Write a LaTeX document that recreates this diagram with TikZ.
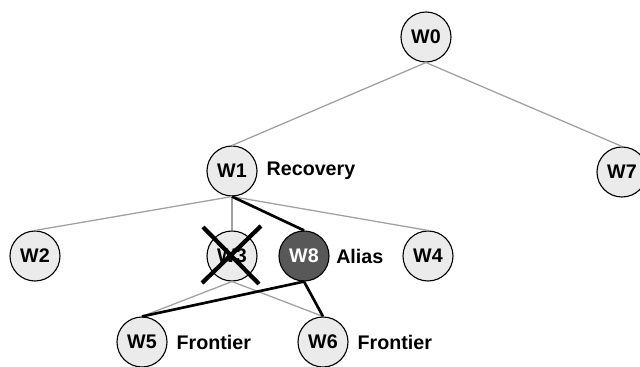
\documentclass[tikz,border=0pt]{standalone}
\usepackage{fontspec}
\setmainfont{Liberation Sans}
\usetikzlibrary{positioning}
\definecolor{paper}{RGB}{235,235,235}
\definecolor{slate}{RGB}{88,88,88}
\definecolor{wire}{RGB}{160,160,160}
\tikzset{
  worker/.style={circle,draw=black,line width=0.8pt,fill=#1,minimum size=12.5mm,
    inner sep=0pt,font=\fontsize{14}{16}\selectfont\bfseries},
  worker/.default=paper,
  tag/.style={inner sep=0pt,font=\fontsize{14}{16}\selectfont\bfseries},
  tree/.style={draw=wire,line width=0.9pt},
  hot/.style={draw=black,line width=1.9pt},
  strike/.style={draw=black,line width=3pt},
}

\begin{document}
\begin{tikzpicture}[x=0.025cm,y=-0.025cm]
  \useasboundingbox (0,0) rectangle (640,367);
  % workers
  \node[worker] (w0) at (426,37) {W0};
  \node[worker] (w1) at (232,171) {W1};
  \node[worker] (w7) at (622,172) {W7};
  \node[worker] (w2) at (35,256) {W2};
  \node[worker] (w3) at (232,256) {W3};
  \node[worker=slate,text=white] (w8) at (304,256) {W8};
  \node[worker] (w4) at (428,256) {W4};
  \node[worker] (w5) at (142,342) {W5};
  \node[worker] (w6) at (323,342) {W6};
  % roles
  \node[tag,right=2.2mm of w1] (rec) {Recovery};
  \node[tag,right=1.6mm of w8] (ali) {Alias};
  \node[tag,right=2.2mm of w5] (fr5) {Frontier};
  \node[tag,right=2.2mm of w6] (fr6) {Frontier};
  % tree edges
  \foreach \a/\b in {w0/w1,w0/w7,w1/w2,w1/w3,w1/w4,w3/w5,w3/w6}
    \draw[tree] (\a.south) -- (\b.north);
  % repaired path
  \foreach \a/\b in {w1/w8,w8/w5,w8/w6}
    \draw[hot] (\a.south) -- (\b.north);
  % failed worker
  \draw[strike] ([shift={(-29,-29)}]w3.center) -- ([shift={(27,28)}]w3.center);
  \draw[strike] ([shift={(29,-30)}]w3.center) -- ([shift={(-30,27)}]w3.center);
\end{tikzpicture}
\end{document}
